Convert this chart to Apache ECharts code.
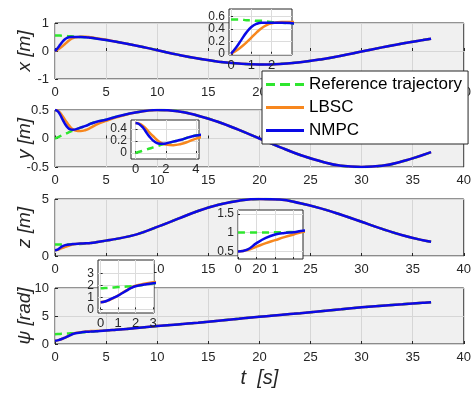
<!DOCTYPE html>
<html><head><meta charset="utf-8">
<script src="https://cdn.jsdelivr.net/npm/echarts@6/dist/echarts.min.js"></script>
<style>html,body{margin:0;padding:0;background:#fff}#c{width:474px;height:399px}</style>
</head><body><div id="c"></div>
<script>
// time samples (s)
const T = [0,0.25,0.5,0.75,1,1.25,1.5,1.75,2,2.5,3,3.5,4,5,6,8,10,12,14,16,18,20,22,24,26,28,30,32,34,36,36.8];

const xRef  = [0.55,0.55,0.55,0.54,0.54,0.53,0.53,0.52,0.51,0.5,0.49,0.47,0.45,0.39,0.33,0.19,0.03,-0.13,-0.27,-0.38,-0.45,-0.48,-0.46,-0.4,-0.3,-0.17,-0.02,0.13,0.27,0.39,0.44];
const xLBSC = [0,0.05,0.11,0.18,0.26,0.34,0.41,0.46,0.49,0.51,0.51,0.49,0.46,0.4,0.33,0.19,0.03,-0.13,-0.27,-0.38,-0.45,-0.48,-0.46,-0.4,-0.3,-0.17,-0.02,0.13,0.27,0.39,0.44];
const xNMPC = [0,0.1,0.22,0.34,0.43,0.48,0.5,0.5,0.5,0.5,0.49,0.47,0.45,0.39,0.33,0.19,0.03,-0.13,-0.27,-0.38,-0.45,-0.48,-0.46,-0.4,-0.3,-0.17,-0.02,0.13,0.27,0.39,0.44];

const yRef  = [0,0.02,0.04,0.06,0.08,0.1,0.12,0.14,0.155,0.19,0.22,0.26,0.29,0.33,0.38,0.46,0.5,0.48,0.4,0.29,0.15,0,-0.15,-0.29,-0.4,-0.48,-0.5,-0.48,-0.4,-0.29,-0.24];
const yLBSC = [0.5,0.49,0.45,0.39,0.32,0.26,0.2,0.16,0.14,0.13,0.15,0.19,0.24,0.31,0.37,0.46,0.5,0.48,0.4,0.29,0.15,0,-0.15,-0.29,-0.4,-0.48,-0.5,-0.48,-0.4,-0.29,-0.24];
const yNMPC = [0.5,0.48,0.42,0.33,0.25,0.19,0.16,0.155,0.16,0.19,0.22,0.26,0.29,0.33,0.38,0.46,0.5,0.48,0.4,0.29,0.15,0,-0.15,-0.29,-0.4,-0.48,-0.5,-0.48,-0.4,-0.29,-0.24];

const zRef  = [1,1,1,1,1.01,1.01,1.02,1.03,1.04,1.06,1.09,1.13,1.2,1.35,1.5,1.9,2.55,3.25,3.95,4.5,4.85,5.0,4.95,4.62,4.18,3.62,3.0,2.38,1.82,1.38,1.25];
const zLBSC = [0.5,0.54,0.63,0.72,0.8,0.88,0.95,1.02,1.06,1.1,1.11,1.14,1.2,1.35,1.5,1.9,2.55,3.25,3.95,4.5,4.85,5.0,4.95,4.62,4.18,3.62,3.0,2.38,1.82,1.38,1.25];
const zNMPC = [0.5,0.55,0.72,0.86,0.95,0.99,1.01,1.05,1.06,1.09,1.11,1.14,1.2,1.35,1.5,1.9,2.55,3.25,3.95,4.5,4.85,5.0,4.95,4.62,4.18,3.62,3.0,2.38,1.82,1.38,1.25];

const psiRef  = [1.75,1.77,1.8,1.82,1.85,1.87,1.9,1.92,1.95,2.05,2.15,2.22,2.28,2.4,2.55,2.85,3.2,3.5,3.8,4.15,4.5,4.88,5.2,5.5,5.85,6.2,6.55,6.85,7.1,7.35,7.45];
const psiLBSC = [0.6,0.65,0.78,0.95,1.15,1.38,1.6,1.8,1.97,2.12,2.25,2.3,2.33,2.4,2.55,2.85,3.2,3.5,3.8,4.15,4.5,4.88,5.2,5.5,5.85,6.2,6.55,6.85,7.1,7.35,7.45];
const psiNMPC = [0.6,0.65,0.8,0.97,1.15,1.36,1.58,1.78,1.92,2.06,2.17,2.22,2.28,2.4,2.55,2.85,3.2,3.5,3.8,4.15,4.5,4.88,5.2,5.5,5.85,6.2,6.55,6.85,7.1,7.35,7.45];

// tick labels
const mainXTicks = [0,5,10,15,20,25,30,35,40];
const yNames = ['x [m]','y [m]','z [m]','\u03c8 [rad]'];
const mainYRange = [[-1,1,1],[-0.5,0.5,0.5],[0,5,5],[0,10,5]];
const inset1X = [0,1,2], inset1Y = [0,0.2,0.4,0.6];
const inset2X = [0,2,4], inset2Y = [0,0.2,0.4];
const inset3XTicks = [0,0.5,1,1.5], inset3XLabels = [0,1], inset3Y = [0.5,1,1.5];
const inset4X = [0,1,2,3], inset4Y = [0,1,2,3];

const FONT = '"Liberation Sans", Arial, sans-serif';
const INK = '#262626';
const C_REF = '#2ee62e', C_LBSC = '#f7871e', C_NMPC = '#0a0ae6';

const mainTops = [23,110,199,288], mainH = [56,57,57,56];
const grids = [];
const xAxes = [], yAxes = [], series = [];

function pairs(a){ return T.map((t,i)=>[t,a[i]]); }
const sets = [[xRef,xLBSC,xNMPC],[yRef,yLBSC,yNMPC],[zRef,zLBSC,zNMPC],[psiRef,psiLBSC,psiNMPC]];

function addSeries(idx, set, z){
  const [r,l,n] = set;
  const base = {type:'line', xAxisIndex:idx, yAxisIndex:idx, symbol:'none', showSymbol:false,
    smooth:0.45, animation:false, z:z, clip:true};
  series.push(Object.assign({}, base, {name:'Reference trajectory', data:pairs(r),
    lineStyle:{color:C_REF, width:2.5, type:[7,5]}, itemStyle:{color:C_REF}}));
  series.push(Object.assign({}, base, {name:'LBSC', data:pairs(l),
    lineStyle:{color:C_LBSC, width:2.5}, itemStyle:{color:C_LBSC}}));
  series.push(Object.assign({}, base, {name:'NMPC', data:pairs(n),
    lineStyle:{color:C_NMPC, width:2.5}, itemStyle:{color:C_NMPC}}));
}

for (let i=0;i<4;i++){
  grids.push({left:55, width:414, top:mainTops[i], height:mainH[i], show:true,
    backgroundColor:'#f0f0f0', borderColor:INK, borderWidth:1, z:0});
  xAxes.push({gridIndex:i, type:'value', min:mainXTicks[0], max:mainXTicks[mainXTicks.length-1], interval:5,
    axisLine:{show:false}, axisTick:{show:true, inside:true, length:3, lineStyle:{color:INK}},
    axisLabel:{color:INK, fontSize:13, fontFamily:FONT, margin:7},
    splitLine:{show:true, lineStyle:{color:'#d6d6d6', width:1}},
    name: i===3 ? 't  [s]' : '', nameLocation:'middle', nameGap:24, nameMoveOverlap:false,
    nameTextStyle:{fontSize:20, fontStyle:'italic', fontFamily:FONT, color:INK}});
  const r = mainYRange[i];
  yAxes.push({gridIndex:i, type:'value', min:r[0], max:r[1], interval:r[2],
    axisLine:{show:false}, axisTick:{show:true, inside:true, length:3, lineStyle:{color:INK}},
    axisLabel:{color:INK, fontSize:13, fontFamily:FONT, margin:6},
    splitLine:{show:true, lineStyle:{color:'#d6d6d6', width:1}},
    name:yNames[i], nameLocation:'middle', nameGap:21, nameRotate:90, nameMoveOverlap:false,
    nameTextStyle:{fontSize:19, fontStyle:'italic', fontFamily:FONT, color:INK}});
  addSeries(i, sets[i], 2);
}

const insets = [
  {g:{left:229, top:9, width:63, height:46}, x:[-0.1,3], xt:inset1X, xl:inset1X, y:[-0.02,0.72], yt:inset1Y},
  {g:{left:131, top:120, width:68, height:39}, x:[-0.3,4.2], xt:inset2X, xl:inset2X, y:[-0.1,0.55], yt:inset2Y},
  {g:{left:238, top:210, width:65, height:49}, x:[0,1.75], xt:inset3XTicks, xl:inset3XLabels, y:[0.3,1.6], yt:inset3Y},
  {g:{left:98, top:260, width:56, height:53}, x:[-0.15,3.05], xt:inset4X, xl:inset4X, y:[-0.3,4.1], yt:inset4Y}
];
insets.forEach((s,k)=>{
  const idx = 4+k;
  grids.push(Object.assign({show:true, backgroundColor:'#ffffff', borderColor:INK, borderWidth:1, z:10}, s.g));
  xAxes.push({gridIndex:idx, type:'value', min:s.x[0], max:s.x[1], z:11,
    axisLine:{show:false}, axisTick:{show:true, inside:true, length:2, customValues:s.xt, lineStyle:{color:INK}},
    axisLabel:{customValues:s.xl, interval:0, color:INK, fontSize:13, lineHeight:10, fontFamily:FONT, margin:5, hideOverlap:false},
    splitLine:{show:true, lineStyle:{color:'#dcdcdc', width:1}}});
  yAxes.push({gridIndex:idx, type:'value', min:s.y[0], max:s.y[1], z:11,
    axisLine:{show:false}, axisTick:{show:true, inside:true, length:2, customValues:s.yt, lineStyle:{color:INK}},
    axisLabel:{customValues:s.yt, interval:0, color:INK, fontSize:12, lineHeight:9, fontFamily:FONT, margin:4, hideOverlap:false},
    splitLine:{show:true, lineStyle:{color:'#dcdcdc', width:1}}});
  addSeries(idx, sets[k], 12);
});

const chart = echarts.init(document.getElementById('c'), null, {renderer:'canvas'});
chart.setOption({
  animation:false,
  textStyle:{fontFamily:FONT},
  grid:grids, xAxis:xAxes, yAxis:yAxes, series:series,
  legend:{data:[
      {name:'Reference trajectory', icon:'path://M0,0h9v3h-9zM14,0h10v3h-10zM29,0h9v3h-9z'},
      {name:'LBSC', icon:'rect'},
      {name:'NMPC', icon:'rect'}],
    orient:'vertical', left:262, top:71,
    backgroundColor:'#ffffff', borderColor:INK, borderWidth:1, borderRadius:0,
    padding:[5,6,5,4], itemGap:6, itemWidth:38, itemHeight:3, z:20,
    selectedMode:false,
    textStyle:{fontSize:17, lineHeight:17, color:'#000', fontFamily:FONT}}
});
</script></body></html>
